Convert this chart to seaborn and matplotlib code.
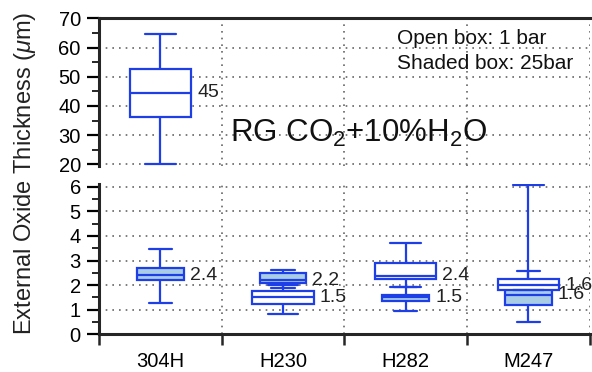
import matplotlib.pyplot as plt
import matplotlib.ticker as mticker
import numpy as np
import pandas as pd
import seaborn as sns

sns.set_theme(style="ticks")
plt.rcParams['font.family'] = ['Liberation Sans', 'DejaVu Sans']
plt.rcParams['mathtext.fontset'] = 'custom'
plt.rcParams['mathtext.rm'] = 'Liberation Sans'
plt.rcParams['mathtext.it'] = 'Liberation Sans:italic'

# Dados (whislo, q1, mediana, q3, whishi)
categories = ["304H", "H230", "H282", "M247"]
open_1bar = [
    [20.0, 36.1, 44.5, 52.6, 64.5],
    [0.84, 1.24, 1.5, 1.76, 2.0],
    [1.92, 2.25, 2.38, 2.9, 3.7],
    [1.8, 1.8, 2.0, 2.25, 6.07],
]
shaded_25bar = [
    [1.28, 2.22, 2.4, 2.7, 3.45],
    [1.9, 2.08, 2.2, 2.5, 2.62],
    [0.95, 1.37, 1.5, 1.6, 1.92],
    [0.51, 1.19, 1.6, 1.89, 2.59],
]
open_labels = ["45", "1.5", "2.4", "1.6"]
shaded_labels = ["2.4", "2.2", "1.5", "1.6"]

BLUE = "#1f3fe6"
SHADE = "#a9cde4"
GRID = dict(linestyle=(0, (1, 3)), color="#666666", linewidth=1.2)

rows = []
for pressure, boxes in [("1 bar", open_1bar), ("25 bar", shaded_25bar)]:
    for alloy, vals in zip(categories, boxes):
        for v in vals:
            rows.append({"alloy": alloy, "pressure": pressure, "thickness": v})
df = pd.DataFrame(rows)

fig = plt.figure(figsize=(5.92, 3.72), dpi=100)
ax_top = fig.add_axes([0.167, 0.5544, 0.829, 0.3964])
ax_bot = fig.add_axes([0.167, 0.1013, 0.829, 0.4033])

estilos = [
    ("25 bar", SHADE, 0.38),
    ("1 bar", "white", 0.5),
]

for ax in (ax_top, ax_bot):
    for pressure, cor, larg in estilos:
        sns.boxplot(data=df[df["pressure"] == pressure], x="alloy", y="thickness",
                    order=categories, width=larg, color=cor, linecolor=BLUE,
                    linewidth=1.6, saturation=1, whis=(0, 100), showfliers=False,
                    ax=ax)
    ax.set_xlabel("")
    ax.set_ylabel("")
    ax.set_xlim(-0.5, len(categories) - 0.5)
    bordas = np.arange(len(categories) + 1) - 0.5
    ax.set_xticks(bordas, [""] * len(bordas))
    ax.grid(True, which="major", **GRID)
    ax.set_axisbelow(True)
    ax.spines["right"].set_visible(False)
    ax.spines["left"].set_linewidth(2.2)
    ax.tick_params(axis="y", which="major", length=9, width=1.6,
                   labelsize=14.5, pad=4, colors="black")
    ax.tick_params(axis="y", which="minor", length=5, width=1.4)

# painel superior
ax_top.set_ylim(19.5, 70)
ax_top.set_yticks(range(20, 71, 10))
ax_top.yaxis.set_minor_locator(mticker.MultipleLocator(5))
ax_top.spines["bottom"].set_visible(False)
ax_top.spines["top"].set_linewidth(2.2)
ax_top.tick_params(axis="x", which="both", bottom=False, labelbottom=False)

# painel inferior
ax_bot.set_ylim(0, 6.1)
ax_bot.set_yticks(range(0, 7))
ax_bot.yaxis.set_minor_locator(mticker.MultipleLocator(0.5))
ax_bot.spines["top"].set_visible(False)
ax_bot.spines["bottom"].set_linewidth(2.2)
ax_bot.tick_params(axis="x", which="major", length=8, width=1.8, direction="out")
ax_bot.set_xticks(range(len(categories)), categories, minor=True)
ax_bot.tick_params(axis="x", which="minor", length=0, pad=13, labelsize=14.5,
                   colors="black")

# rótulos das medianas
for i in range(len(categories)):
    for vals, labels, larg in [(open_1bar, open_labels, 0.5),
                               (shaded_25bar, shaded_labels, 0.38)]:
        med = vals[i][2]
        ax = ax_top if med > 10 else ax_bot
        ax.text(i + larg / 2 + 0.05, med, labels[i], va="center", ha="left",
                fontsize=14, color="#222222", clip_on=False)

ax_top.text(1.62, 27.7, "RG CO$_2$+10%H$_2$O", fontsize=22.5, ha="center",
            va="baseline", color="#111111")
ax_top.text(0.607, 0.93, "Open box: 1 bar\nShaded box: 25bar",
            transform=ax_top.transAxes, fontsize=15, ha="left", va="top",
            linespacing=1.45, color="#111111")

fig.text(0.042, 0.535, "External Oxide Thickness ($\\mu$m)", rotation=90,
         va="center", ha="center", fontsize=17, color="#222222")

fig.savefig("out.png", dpi=100)
